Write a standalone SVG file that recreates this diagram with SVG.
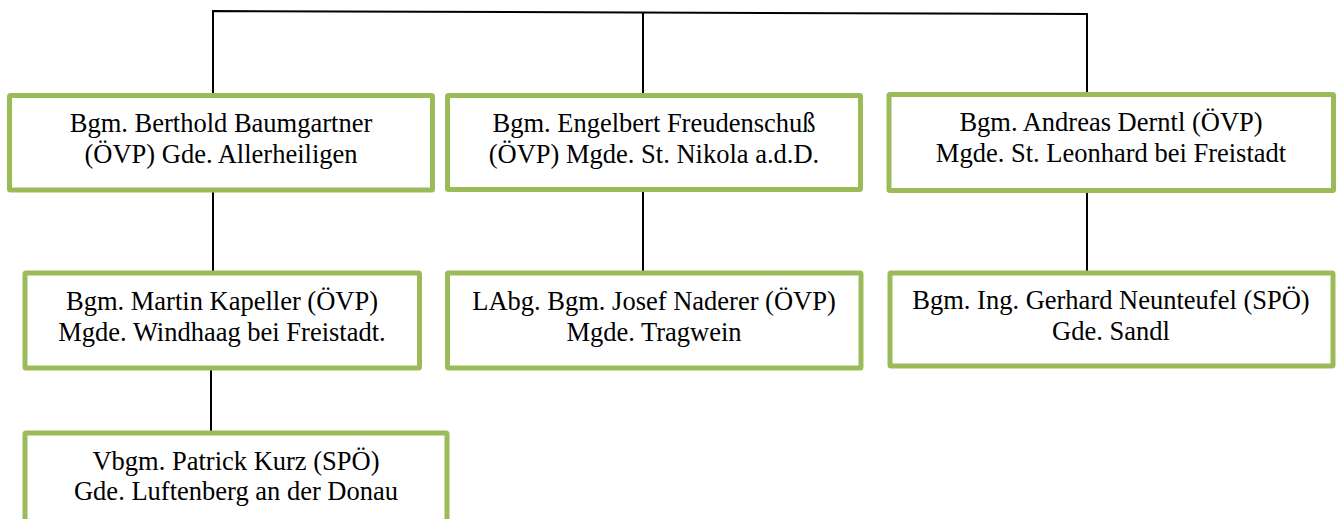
<svg xmlns="http://www.w3.org/2000/svg" width="1338" height="519" viewBox="0 0 1338 519">
<style>
.box{fill:#ffffff;stroke:#9BBB59;stroke-width:5;}
.t{font-family:'Liberation Serif','Times New Roman',serif;font-size:26.5px;fill:#000000;text-anchor:middle;}
.c{fill:none;stroke:#000000;stroke-width:2;}
</style>
<rect width="1338" height="519" fill="#ffffff"/>
<g id="connectors">
<polyline class="c" points="213,93 213,11 1087,14 1087,92"/>
<line class="c" x1="643" y1="12.5" x2="643" y2="93"/>
<line class="c" x1="213" y1="192" x2="213" y2="271"/>
<line class="c" x1="643" y1="191" x2="643" y2="271"/>
<line class="c" x1="1087" y1="193" x2="1087" y2="271"/>
<line class="c" x1="211" y1="370" x2="211" y2="431"/>
</g>
<g id="n1">
<rect class="box" x="9.5" y="95.5" width="423" height="94.5" rx="1"/>
<text class="t" x="221" y="132">Bgm. Berthold Baumgartner</text>
<text class="t" x="221" y="163">(ÖVP) Gde. Allerheiligen</text>
</g>
<g id="n2">
<rect class="box" x="447.5" y="95.5" width="413" height="94" rx="1"/>
<text class="t" x="654" y="132">Bgm. Engelbert Freudenschuß</text>
<text class="t" x="654" y="163">(ÖVP) Mgde. St. Nikola a.d.D.</text>
</g>
<g id="n3">
<rect class="box" x="889" y="94.5" width="444.5" height="96" rx="1"/>
<text class="t" x="1111" y="131">Bgm. Andreas Derntl (ÖVP)</text>
<text class="t" x="1111" y="162">Mgde. St. Leonhard bei Freistadt</text>
</g>
<g id="n4">
<rect class="box" x="25" y="273" width="394.5" height="95" rx="1"/>
<text class="t" x="222" y="310">Bgm. Martin Kapeller (ÖVP)</text>
<text class="t" x="222" y="341">Mgde. Windhaag bei Freistadt.</text>
</g>
<g id="n5">
<rect class="box" x="447.5" y="273" width="413.5" height="95" rx="1"/>
<text class="t" x="654" y="310">LAbg. Bgm. Josef Naderer (ÖVP)</text>
<text class="t" x="654" y="341">Mgde. Tragwein</text>
</g>
<g id="n6">
<rect class="box" x="890" y="273" width="443" height="93" rx="1"/>
<text class="t" x="1111" y="309">Bgm. Ing. Gerhard Neunteufel (SPÖ)</text>
<text class="t" x="1111" y="340">Gde. Sandl</text>
</g>
<g id="n7">
<rect class="box" x="25" y="433" width="422" height="100" rx="1"/>
<text class="t" x="236" y="470">Vbgm. Patrick Kurz (SPÖ)</text>
<text class="t" x="236" y="500">Gde. Luftenberg an der Donau</text>
</g>
</svg>
